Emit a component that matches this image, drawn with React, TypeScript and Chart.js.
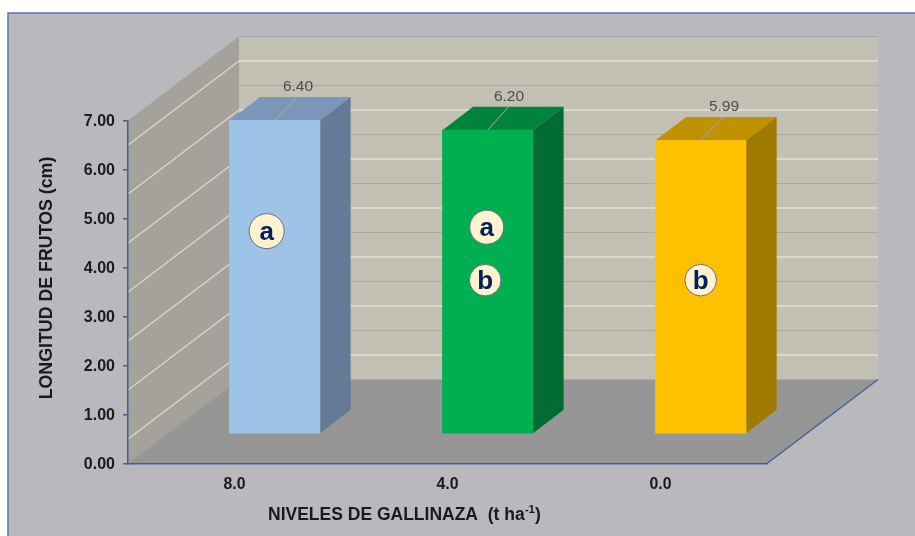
import React, { useEffect, useRef } from "react";
import { Chart, registerables } from "chart.js";

Chart.register(...registerables);

const categories = ["8.0", "4.0", "0.0"];
const lengths = [6.4, 6.2, 5.99];
const frontColors = ["#9dc3e6", "#00b050", "#ffc000"];
const topColors = ["#7a96b8", "#00843c", "#c09200"];
const sideColors = ["#647a96", "#006c32", "#a07a00"];
const gridValues = [1, 2, 3, 4, 5, 6, 7];
const lightGridValues = [0.5, 1.5, 2.5, 3.5, 4.5, 5.5, 6.5];
const badgeLetters = [["a"], ["a", "b"], ["b"]];
const badgeValues = [[4.14], [4.22, 3.14], [3.14]];
const yTitle = "LONGITUD DE FRUTOS (cm)";
const xTitle = "NIVELES DE GALLINAZA  (t ha";
const xTitleSup = "-1";
const xTitleEnd = ")";

const FONT = '"Liberation Sans", Arial, sans-serif';
const AXIS = "#3f5f96";
const WALL_DX = 111;
const WALL_DY = -84;
const BAR_SHIFT_X = 40.2;
const BAR_SHIFT_Y = -29.5;
const BAR_DX = 30.7;
const BAR_DY = -23.4;
const LEADER_DX = [22.8, 20.8, 22.8];

function poly(ctx: CanvasRenderingContext2D, pts: number[][], fill: string) {
  ctx.beginPath();
  pts.forEach((p, i) => (i ? ctx.lineTo(p[0], p[1]) : ctx.moveTo(p[0], p[1])));
  ctx.closePath();
  ctx.fillStyle = fill;
  ctx.fill();
}

function seg(ctx: CanvasRenderingContext2D, a: number[], b: number[], color: string, w: number) {
  ctx.beginPath();
  ctx.moveTo(a[0], a[1]);
  ctx.lineTo(b[0], b[1]);
  ctx.strokeStyle = color;
  ctx.lineWidth = w;
  ctx.stroke();
}

const scenePlugin = {
  id: "scene",
  beforeDraw(chart: any) {
    const { ctx, chartArea: a, scales } = chart;
    const y = scales.y;
    const { left: l, right: r, top: t, bottom: b } = a;
    ctx.save();
    ctx.fillStyle = "#b9b8bd";
    ctx.fillRect(8, 13, 920, 540);
    ctx.strokeStyle = "#5673a5";
    ctx.lineWidth = 1.5;
    ctx.strokeRect(8, 13, 920, 540);

    poly(ctx, [[l, t], [l + WALL_DX, t + WALL_DY], [l + WALL_DX, b + WALL_DY], [l, b]], "#a5a29b");
    poly(ctx, [[l + WALL_DX, t + WALL_DY], [r + WALL_DX, t + WALL_DY], [r + WALL_DX, b + WALL_DY], [l + WALL_DX, b + WALL_DY]], "#c2bfb3");

    gridValues.forEach((v) => {
      const py = y.getPixelForValue(v);
      const c = v === 7 ? "#a6a6a6" : "#aaa89f";
      seg(ctx, [l + WALL_DX, py + WALL_DY], [r + WALL_DX, py + WALL_DY], c, 1.1);
      if (v < 7) seg(ctx, [l, py], [l + WALL_DX, py + WALL_DY], "#9fa19a", 0.9);
    });
    lightGridValues.forEach((v) => {
      const py = y.getPixelForValue(v);
      seg(ctx, [l + WALL_DX, py + WALL_DY], [r + WALL_DX, py + WALL_DY], "#e2e0da", 1.3);
      seg(ctx, [l, py], [l + WALL_DX, py + WALL_DY], "#dddbd5", 1.1);
    });

    poly(ctx, [[l, b], [r, b], [r + WALL_DX, b + WALL_DY], [l + WALL_DX, b + WALL_DY]], "#969696");
    seg(ctx, [r, b], [r + WALL_DX, b + WALL_DY], AXIS, 1.3);
    ctx.restore();
  },
  beforeDatasetsDraw(chart: any) {
    const ctx = chart.ctx;
    ctx.save();
    ctx.translate(BAR_SHIFT_X, BAR_SHIFT_Y);
    chart.getDatasetMeta(0).data.forEach((bar: any, i: number) => {
      const { x, y, base, width } = bar.getProps(["x", "y", "base", "width"], true);
      const lx = x - width / 2;
      const rx = x + width / 2;
      poly(ctx, [[lx, y], [lx + BAR_DX, y + BAR_DY], [rx + BAR_DX, y + BAR_DY], [rx, y]], topColors[i]);
      poly(ctx, [[rx, y], [rx + BAR_DX, y + BAR_DY], [rx + BAR_DX, base + BAR_DY], [rx, base]], sideColors[i]);
    });
  },
  afterDatasetsDraw(chart: any) {
    const ctx = chart.ctx;
    ctx.restore();
    ctx.save();
    const yScale = chart.scales.y;
    chart.getDatasetMeta(0).data.forEach((bar: any, i: number) => {
      const { x, y } = bar.getProps(["x", "y"], true);
      const fx = x + BAR_SHIFT_X;
      const fy = y + BAR_SHIFT_Y;
      const ex = fx + LEADER_DX[i];
      const ey = fy + BAR_DY;
      seg(ctx, [fx, fy], [ex, ey], "#a9a79f", 1);
      ctx.font = `15.5px ${FONT}`;
      ctx.fillStyle = "#4d4d4d";
      ctx.textAlign = "center";
      ctx.textBaseline = "middle";
      ctx.fillText(lengths[i].toFixed(2), ex + 0.5, ey - 10.5);

      badgeLetters[i].forEach((letter, j) => {
        const cy = yScale.getPixelForValue(badgeValues[i][j]) + BAR_SHIFT_Y;
        const cx = fx + [-8, -1, 0][i] + (j ? -1.5 : 0);
        const r = i === 0 ? 17.5 : j || i === 2 ? 15.8 : 17;
        ctx.beginPath();
        ctx.arc(cx, cy, r, 0, Math.PI * 2);
        ctx.fillStyle = "#fff2cc";
        ctx.fill();
        ctx.strokeStyle = "#5a6f9a";
        ctx.lineWidth = 1;
        ctx.stroke();
        ctx.font = `bold 26px ${FONT}`;
        ctx.fillStyle = "#002060";
        ctx.textBaseline = "alphabetic";
        ctx.fillText(letter, cx, cy + 9);
      });
    });

    ctx.fillStyle = "#1a1a1a";
    ctx.textBaseline = "middle";
    ctx.textAlign = "center";
    ctx.font = `bold 17.8px ${FONT}`;
    ctx.save();
    ctx.translate(47, 278);
    ctx.rotate(-Math.PI / 2);
    ctx.fillText(yTitle, 0, 0);
    ctx.restore();

    ctx.textAlign = "left";
    ctx.font = `bold 17.5px ${FONT}`;
    let tx = 268;
    ctx.fillText(xTitle, tx, 515);
    tx += ctx.measureText(xTitle).width;
    ctx.font = `bold 11.5px ${FONT}`;
    ctx.fillText(xTitleSup, tx, 509.5);
    tx += ctx.measureText(xTitleSup).width;
    ctx.font = `bold 17.5px ${FONT}`;
    ctx.fillText(xTitleEnd, tx, 515);
    ctx.restore();
  },
};

export default function App() {
  const ref = useRef<HTMLCanvasElement>(null);
  useEffect(() => {
    const chart = new Chart(ref.current!, {
      type: "bar",
      data: {
        labels: categories,
        datasets: [
          {
            label: "Longitud de frutos",
            data: lengths,
            backgroundColor: frontColors,
            borderWidth: 0,
            barThickness: 90.5,
          },
        ],
      },
      plugins: [scenePlugin],
      options: {
        animation: false,
        responsive: false,
        devicePixelRatio: 1,
        layout: { padding: { left: 8, right: 148, top: 120.5, bottom: 32.5 } },
        plugins: { legend: { display: false }, title: { display: false }, tooltip: { enabled: false } },
        scales: {
          x: {
            afterFit: (s: any) => {
              s.height = 40;
            },
            grid: { display: false, drawTicks: false },
            border: { display: true, color: AXIS, width: 1.5 },
            ticks: { color: "#1a1a1a", font: { family: FONT, weight: "bold", size: 15.8 }, padding: 12 },
          },
          y: {
            min: 0,
            max: 7,
            afterFit: (s: any) => {
              s.width = 120;
            },
            grid: { drawOnChartArea: false, drawTicks: true, tickLength: 5, color: AXIS, lineWidth: 1.5 },
            border: { display: true, color: AXIS, width: 1.5 },
            ticks: {
              stepSize: 1,
              color: "#1a1a1a",
              padding: 8,
              labelOffset: 1,
              font: { family: FONT, weight: "bold", size: 16 },
              callback: (v: any) => Number(v).toFixed(2),
            },
          },
        },
      },
    } as any);
    return () => chart.destroy();
  }, []);
  return (
    <canvas
      ref={ref}
      width={915}
      height={536}
      style={{ position: "fixed", left: 0, top: 0, width: 915, height: 536, display: "block", filter: "blur(0.45px)" }}
    />
  );
}
